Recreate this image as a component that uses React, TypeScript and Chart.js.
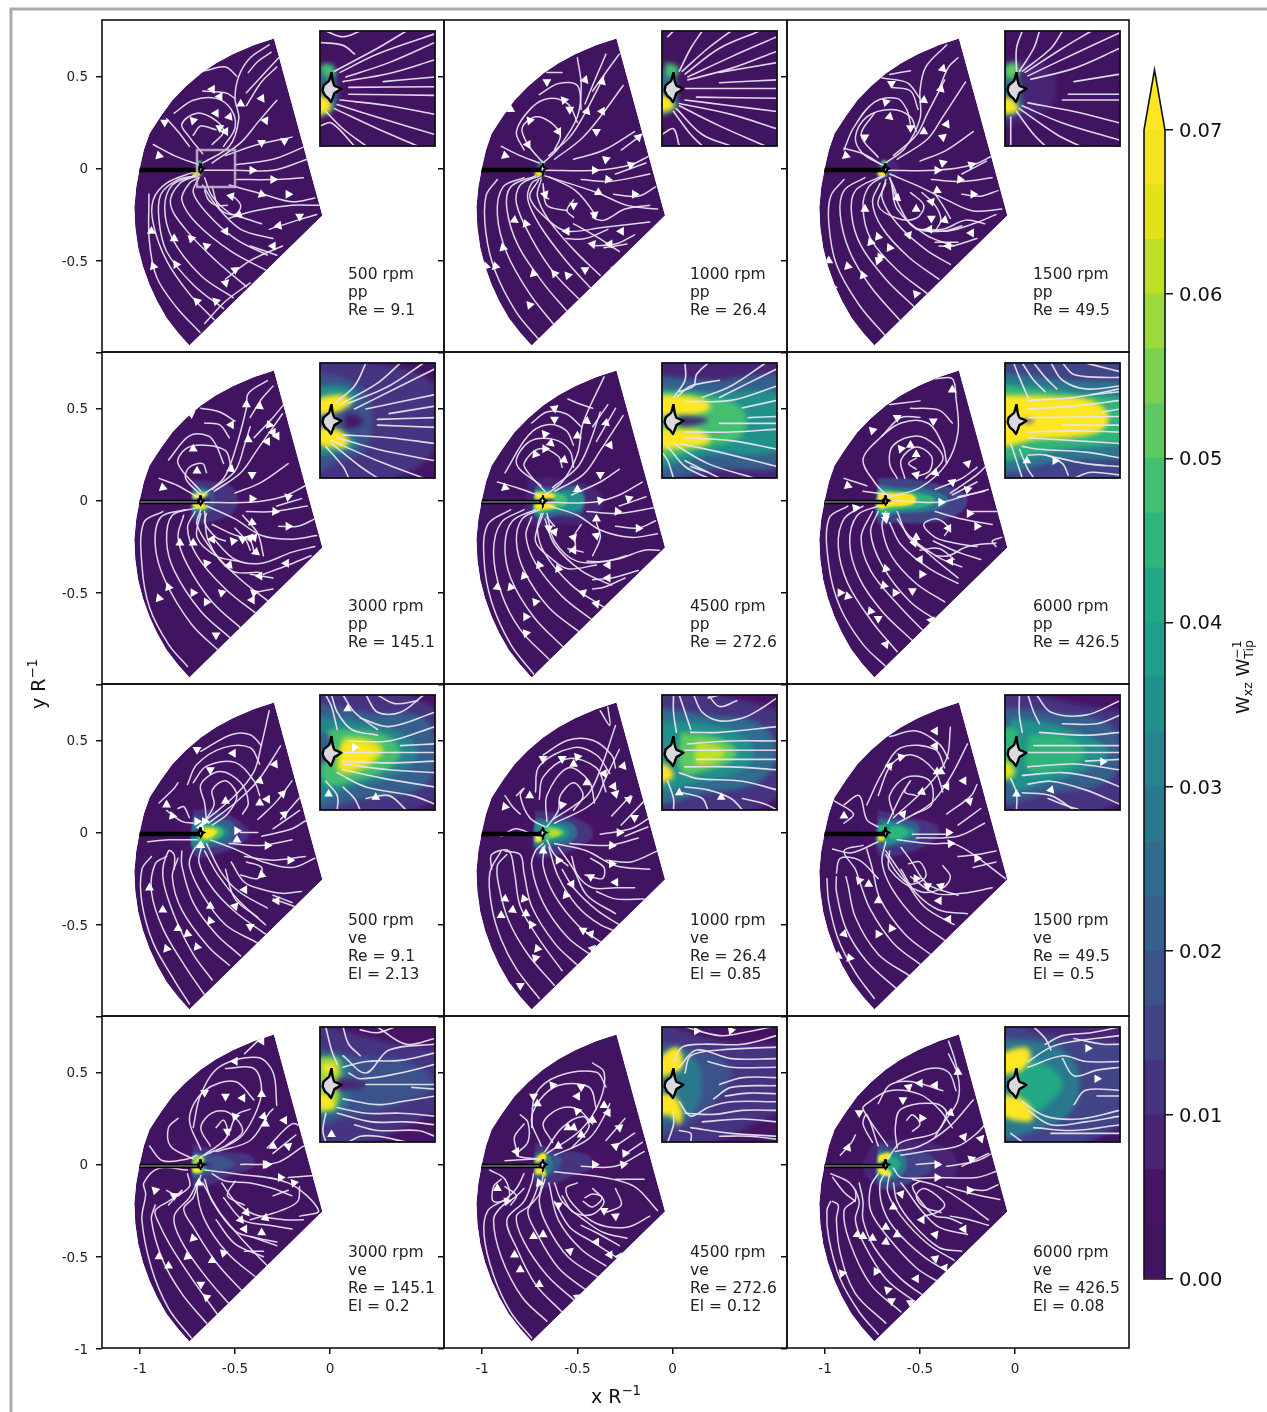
import { useEffect, useRef } from "react";
import Chart from "chart.js/auto";

const xTicks = [-1, -0.5, 0];
const yTicks = [0.5, 0, -0.5, -1];
const cbTicks = [0, 0.01, 0.02, 0.03, 0.04, 0.05, 0.06, 0.07];
const cbColors = ["#411462","#471365","#482475","#463480","#414487","#3b528b","#355f8d","#2f6c8e","#2a788e","#25848e","#21918c","#1f9e89","#22a884","#2fb47c","#44bf70","#5ec962","#7ad151","#9bd93c","#bddf26","#dfe318","#f5e41f"];
const cbMax = 0.07;
const cbExtend = 0.07366;

const sector = [-.295,.705,-.4,.67,-.51,.62,-.6,.57,-.68,.515,-.76,.445,-.83,.37,-.89,.285,-.95,.19,-.98,.1,-1,.01,-1.02,-.1,-1.03,-.21,-1.025,-.32,-1.01,-.43,-.985,-.53,-.95,-.63,-.91,-.72,-.86,-.81,-.8,-.89,-.74,-.96,-.04,-.255,-.295,.705];
const star = [-.68,.0282,-.684,.0138,-.6936,.0052,-.6954,-.0034,-.6913,-.0121,-.685,-.0178,-.681,-.0236,-.6769,-.0138,-.675,-.008,-.6624,-.0006,-.675,.0052,-.678,.0138,-.68,.0282];
const blade = [-1,-.008,-.68,-.008];
const zoomBox = [-.7,.1,-.5,.1,-.5,-.1,-.7,-.1,-.7,.1];

const lines1 = [
[-.684,-.889,-.807,-.754,-.912,-.59,-.951,-.391,-.953,-.138],
[-.6,-.83,-.74,-.68,-.86,-.5,-.93,-.3,-.93,-.17,-.86,-.08,-.72,-.02],
[-.56,-.76,-.72,-.63,-.86,-.45,-.9,-.28,-.89,-.14,-.8,-.06,-.7,-.04],
[-.51,-.7,-.68,-.58,-.83,-.38,-.87,-.21,-.83,-.09,-.72,-.04],
[-.44,-.64,-.6,-.5,-.76,-.33,-.84,-.19,-.79,-.08,-.7,-.04],
[-.34,-.55,-.52,-.45,-.7,-.3,-.78,-.17,-.74,-.08,-.69,-.05],
[-.33,-.47,-.5,-.38,-.65,-.24,-.72,-.13,-.69,-.05],
[-.3,-.38,-.47,-.33,-.6,-.2,-.67,-.09],
[-.36,-.3,-.45,-.27,-.53,-.24,-.62,-.15,-.66,-.05],
[-.07,-.25,-.17,-.28,-.32,-.33],[-.42,-.42,-.28,-.47],[-.25,-.42,-.42,-.5,-.55,-.6],[-.42,-.62,-.55,-.72,-.66,-.84],
[-.53,-.09,-.35,-.14,-.2,-.18,-.08,-.16],
[-.49,-.06,-.3,-.06,-.14,-.05],[-.66,-.01,-.5,-.01,-.3,-.01,-.12,.05],
[-.5,.02,-.3,.05,-.13,.12],[-.55,.07,-.38,.13,-.2,.17],
[-.62,.03,-.47,.14,-.38,.25,-.28,.37],[-.67,.03,-.53,.12,-.48,.27,-.5,.38,-.48,.5,-.42,.6,-.32,.67],
[-.44,.34,-.36,.47,-.28,.55],[-.44,.41,-.36,.5,-.27,.6],
[-.43,.52,-.38,.58,-.31,.63],[-.67,.08,-.74,.17,-.78,.24,-.7,.3,-.6,.26,-.56,.2,-.62,.13],
[-.72,.18,-.68,.23,-.6,.21],[-.86,.27,-.8,.2,-.74,.12],[-.93,.13,-.82,.07,-.69,.02],
[-.82,.3,-.72,.37,-.6,.38,-.52,.32,-.5,.22,-.56,.12],[-.67,.42,-.55,.41,-.5,.38],
[-.66,.53,-.55,.55,-.49,.5],
[-.66,-.12,-.64,-.17,-.6,-.2,-.54,-.2],[-.62,-.1,-.58,-.22,-.5,-.25,-.47,-.2,-.52,-.14],
[-.06,-.2,-.2,-.2,-.4,-.23,-.53,-.27]];
const arrows1 = [[-.47,.35,0],[-.53,.28,20],[-.36,.38,25],[-.34,.26,35],[-.36,.14,60],[-.24,.15,60],[-.41,-.01,90],[-.3,-.06,90],[-.36,-.14,110],[-.22,-.14,90],[-.48,-.25,250],[-.52,-.15,160],[-.55,-.34,270],[-.27,-.31,260],[-.16,-.26,300],[-.3,-.42,270],[-.65,-.42,310],[-.73,-.38,315],[-.82,-.38,0],[-.94,-.34,0],[-.93,-.53,340],[-.81,-.52,330],[-.7,-.72,315],[-.6,-.72,315],[-.5,-.55,295],[-.55,-.62,285],[-.72,.26,315],[-.87,.25,300],[-.9,.07,105],[-.62,.43,270],[-.58,.22,180],[-.55,.2,30],[-.6,.3,270],[-.58,.39,270]];
const insetLines1 = [[-.675,.03,-.6,.07,-.55,.1],[-.665,.028,-.6,.06,-.5,.095],[-.655,.02,-.58,.045,-.5,.08],[-.66,.012,-.58,.026,-.5,.05],[-.59,.012,-.5,.02],[-.65,.002,-.5,.003],[-.65,-.01,-.5,-.012],[-.665,-.02,-.58,-.03,-.5,-.045],[-.67,-.028,-.6,-.05,-.5,-.08],[-.675,-.035,-.6,-.07,-.53,-.1],[-.69,-.04,-.66,-.07,-.62,-.1],[-.7,-.065,-.68,-.06,-.64,-.1],[-.7,.08,-.66,.075,-.64,.06],[-.69,.1,-.66,.09,-.63,.1]];
const field1 = [[.006,[-.72,.05,-.64,.045,-.6,.01,-.64,-.045,-.72,-.06]],[.024,[-.7,.04,-.68,.04,-.672,.015,-.672,-.03,-.69,-.045,-.72,-.05]],[.048,[-.7,.04,-.685,.042,-.675,.035,-.675,.022,-.69,.02]],[.08,[-.72,-.012,-.688,-.015,-.68,-.03,-.687,-.042,-.72,-.045]]];

const lines2 = [
[-.7,-.93,-.82,-.78,-.93,-.56,-.98,-.35,-.98,-.15,-.92,-.06],
[-.62,-.85,-.75,-.68,-.87,-.46,-.92,-.25,-.89,-.1,-.78,-.05],
[-.55,-.78,-.68,-.62,-.81,-.42,-.87,-.22,-.85,-.1,-.72,-.04],
[-.48,-.72,-.62,-.57,-.74,-.38,-.82,-.19,-.8,-.09,-.7,-.04],
[-.42,-.66,-.56,-.5,-.69,-.32,-.76,-.17,-.74,-.08,-.69,-.05],
[-.38,-.58,-.52,-.44,-.65,-.28,-.71,-.15,-.69,-.06],
[-.28,-.45,-.4,-.37,-.52,-.3],[-.34,-.33,-.46,-.38,-.56,-.38],
[-.2,-.36,-.3,-.41,-.42,-.42],[-.12,-.29,-.37,-.32,-.555,-.34,-.65,-.283,-.75,-.156,-.705,-.065],
[-.24,-.41,-.36,-.43],[-.12,-.2,-.25,-.22,-.36,-.28,-.42,-.265,-.41,-.246,-.51,-.12,-.647,-.047],
[-.67,-.04,-.4,-.13,-.24,-.2,-.08,-.22],[-.48,-.06,-.33,-.07,-.12,-.03],
[-.31,-.14,-.18,-.15,-.09,-.1],[-.67,-.01,-.4,-.01,-.22,.02,-.12,.07],[-.3,-.03,-.14,.03],
[-.52,.05,-.36,.1,-.2,.2],[-.27,.1,-.14,.2],[-.62,.05,-.48,.16,-.38,.28,-.26,.45],
[-.65,.07,-.54,.17,-.46,.3,-.36,.5],[-.68,.03,-.6,.11,-.5,.28,-.48,.45,-.5,.6],
[-.62,.1,-.59,.18,-.64,.25,-.72,.28,-.79,.22,-.76,.13,-.68,.03],
[-.5,.25,-.55,.35,-.65,.38,-.74,.33,-.82,.2,-.78,.1],
[-.48,.32,-.5,.45,-.6,.46,-.7,.4],[-.46,.35,-.4,.5,-.35,.62],
[-.42,.42,-.33,.55,-.28,.62],[-.66,.52,-.58,.52],[-.9,.12,-.8,.07,-.7,.03],
[-.68,-.1,-.67,-.15,-.65,-.165],[-.68,-.083,-.66,-.2,-.555,-.228],[-.52,-.17,-.555,-.228,-.52,-.265]];
const arrows2 = [[-.4,.2,60],[-.35,.05,70],[-.41,-.01,90],[-.22,.02,70],[-.34,-.06,95],[-.2,-.14,90],[-.39,-.13,120],[-.54,.32,180],[-.6,.2,150],[-.45,.31,20],[-.46,.48,20],[-.37,.47,15],[-.37,.31,30],[-.18,.17,45],[-.57,.37,320],[-.76,.13,150],[-.75,.26,320],[-.85,.32,0],[-.66,.47,300],[-.88,.07,110],[-.52,-.2,180],[-.67,-.14,160],[-.41,-.25,170],[-.555,-.34,270],[-.27,-.34,270],[-.33,-.41,270],[-.89,-.43,345],[-.83,-.28,5],[-.77,-.3,340],[-.73,-.57,345],[-.62,-.57,320],[-.55,-.58,320],[-.46,-.55,300],[-.3,-.54,280],[-.75,-.74,320],[-.98,-.53,345],[-.93,-.53,345],[-.42,-.41,280]];
const insetLines2 = [[-.67,.03,-.65,.07,-.63,.1],[-.665,.03,-.62,.07,-.58,.1],[-.66,.025,-.6,.07,-.53,.1],[-.655,.02,-.58,.055,-.5,.09],[-.655,.015,-.58,.035,-.5,.065],[-.6,.028,-.5,.045],[-.6,.01,-.5,.015],[-.66,0,-.5,0],[-.64,-.015,-.5,-.017],[-.66,-.02,-.58,-.03,-.5,-.04],[-.67,-.026,-.58,-.045,-.5,-.07],[-.67,-.03,-.6,-.065,-.52,-.1],[-.675,-.035,-.63,-.08,-.58,-.1],[-.68,-.04,-.65,-.08,-.63,-.1],[-.7,-.08,-.68,-.07,-.67,-.1],[-.69,.09,-.68,.1]];
const field2 = [[.006,[-.72,.05,-.64,.04,-.61,.005,-.63,-.04,-.72,-.06]],[.024,[-.7,.035,-.68,.03,-.672,-.025,-.68,-.04,-.72,-.045]],[.048,[-.695,.045,-.675,.04,-.672,.025,-.69,.02]],[.08,[-.72,-.012,-.687,-.015,-.68,-.035,-.72,-.038]]];

const lines3 = [
[-.68,-.91,-.82,-.74,-.94,-.52,-.98,-.3,-.97,-.15,-.9,-.06],
[-.6,-.83,-.76,-.64,-.87,-.45,-.92,-.25,-.9,-.12,-.79,-.05],
[-.52,-.76,-.68,-.6,-.81,-.42,-.86,-.25,-.84,-.12,-.7,-.04],
[-.46,-.68,-.62,-.55,-.76,-.38,-.8,-.21,-.77,-.1,-.69,-.04],
[-.4,-.6,-.56,-.48,-.7,-.32,-.75,-.18,-.71,-.08],
[-.34,-.52,-.47,-.44,-.62,-.3,-.7,-.16,-.68,-.06],
[-.32,-.42,-.47,-.36,-.62,-.22,-.65,-.08],
[-.2,-.38,-.33,-.42,-.4,-.42],[-.28,-.31,-.38,-.34,-.53,-.32,-.61,-.2,-.66,-.05],
[-.1,-.25,-.22,-.3,-.36,-.34,-.48,-.33],[-.3,-.4,-.42,-.4],
[-.66,-.03,-.5,-.1,-.36,-.17,-.22,-.23,-.07,-.22],[-.44,-.06,-.28,-.07,-.12,-.05],
[-.28,-.14,-.18,-.15,-.09,-.12],[-.67,-.01,-.42,-.01,-.22,.02,-.1,.08],[-.28,-.03,-.15,.04],
[-.5,.04,-.36,.1,-.22,.2],[-.62,.05,-.46,.16,-.38,.28,-.26,.47],[-.64,.07,-.52,.18,-.46,.3,-.37,.48],
[-.68,.03,-.58,.11,-.5,.27,-.5,.42,-.47,.55,-.36,.67],[-.4,.43,-.35,.55,-.3,.6],
[-.7,.02,-.8,.08,-.84,.17,-.78,.28,-.65,.32,-.55,.28,-.52,.2],[-.72,.06,-.81,.18,-.74,.3],
[-.55,.24,-.57,.32,-.62,.38,-.74,.36,-.85,.22,-.9,.1],[-.51,.32,-.55,.42,-.65,.44],
[-.7,.49,-.62,.48,-.56,.46,-.5,.38],[-.66,.51,-.55,.53],[-.9,.11,-.8,.08,-.7,.02],
[-.66,-.05,-.63,-.12,-.62,-.17],[-.68,-.08,-.72,-.2,-.62,-.27,-.52,-.27,-.48,-.2,-.55,-.13],
[-.49,-.13,-.42,-.2,-.39,-.28,-.42,-.34],[-.42,-.14,-.38,-.2,-.34,-.27],
[-.16,-.3,-.26,-.28,-.38,-.33,-.52,-.33]];
const arrows3 = [[-.38,.17,50],[-.38,.03,70],[-.41,-.01,90],[-.23,.02,70],[-.29,-.06,95],[-.22,-.14,90],[-.41,-.12,115],[-.48,.2,0],[-.36,.24,25],[-.48,.37,5],[-.39,.43,15],[-.38,.54,15],[-.55,.22,180],[-.79,.17,180],[-.68,.36,315],[-.65,.46,300],[-.66,.28,10],[-.89,.07,110],[-.62,-.16,130],[-.52,-.22,120],[-.44,-.18,160],[-.44,-.27,180],[-.37,-.28,250],[-.45,-.33,270],[-.56,-.36,280],[-.23,-.35,270],[-.35,-.42,270],[-.2,-.5,270],[-.27,-.52,280],[-.79,-.22,0],[-.76,-.4,340],[-.88,-.53,345],[-.71,-.48,330],[-.8,-.58,340],[-.72,-.5,320],[-.52,-.68,320],[-.66,-.43,335],[-.72,-.37,340],[-.98,-.5,0],[-.96,-.64,340]];
const insetLines3 = [[-.68,.03,-.68,.07,-.67,.1],[-.675,.03,-.65,.07,-.64,.1],[-.67,.03,-.62,.07,-.6,.1],[-.665,.028,-.6,.07,-.55,.1],[-.66,.022,-.58,.06,-.5,.097],[-.655,.016,-.58,.035,-.5,.07],[-.58,.012,-.5,.025],[-.59,-.01,-.5,-.01],[-.6,-.02,-.5,-.02],[-.66,-.025,-.58,-.04,-.5,-.06],[-.67,-.03,-.6,-.06,-.5,-.09],[-.675,-.035,-.61,-.08,-.57,-.1],[-.68,-.04,-.65,-.08,-.63,-.1],[-.69,-.05,-.69,-.1]];
const field3 = [[.008,[-.72,.05,-.63,.04,-.61,0,-.63,-.04,-.72,-.06]],[.026,[-.7,.04,-.68,.03,-.67,-.03,-.68,-.045,-.72,-.05]],[.05,[-.7,.04,-.68,.045,-.677,.022,-.7,.02]],[.08,[-.72,-.012,-.685,-.02,-.678,-.04,-.72,-.04]]];

const lines4 = [
[-.75,-.9,-.85,-.78,-.95,-.58,-.99,-.35,-.98,-.12,-.88,-.06],
[-.58,-.82,-.73,-.67,-.87,-.43,-.92,-.24,-.89,-.09,-.76,-.05],
[-.52,-.75,-.68,-.6,-.82,-.38,-.86,-.22,-.83,-.08,-.7,-.04],
[-.46,-.7,-.62,-.55,-.75,-.35,-.8,-.2,-.77,-.08],
[-.38,-.62,-.55,-.48,-.7,-.3,-.75,-.15,-.71,-.06],
[-.32,-.55,-.48,-.42,-.62,-.27,-.7,-.13,-.68,-.05],
[-.37,-.39,-.52,-.38,-.64,-.22,-.66,-.06],
[-.3,-.48,-.4,-.5],[-.3,-.42,-.42,-.4],[-.1,-.3,-.22,-.35,-.35,-.4],
[-.08,-.25,-.2,-.28,-.36,-.34,-.5,-.32,-.62,-.2],
[-.65,-.03,-.5,-.1,-.36,-.19,-.2,-.21,-.07,-.19],[-.44,-.06,-.3,-.06,-.12,-.03],
[-.27,-.14,-.17,-.14,-.08,-.1],[-.66,-.01,-.42,-.01,-.25,.02,-.13,.08],[-.28,-.03,-.15,.01],
[-.5,.04,-.36,.1,-.22,.2],[-.61,.05,-.47,.15,-.38,.28,-.25,.47],[-.62,.06,-.5,.16,-.45,.3,-.42,.4],
[-.67,.03,-.56,.12,-.5,.27,-.44,.5,-.43,.58,-.33,.65],[-.4,.34,-.3,.45,-.22,.55],[-.42,.45,-.36,.55,-.3,.62],
[-.68,.03,-.76,.12,-.74,.18,-.67,.2,-.65,.15],[-.68,.05,-.8,.2,-.76,.28,-.66,.3,-.55,.27,-.52,.18],
[-.56,.2,-.6,.3,-.64,.35,-.74,.35,-.85,.22],[-.53,.34,-.58,.41,-.66,.42],[-.5,.43,-.58,.48,-.68,.5],
[-.9,.12,-.8,.08,-.7,.02],[-.65,-.07,-.66,-.12,-.6,-.2,-.55,-.22],
[-.68,-.07,-.7,-.2,-.6,-.3,-.48,-.33],[-.62,-.13,-.52,-.18,-.42,-.22,-.4,-.28],[-.5,-.15,-.44,-.22,-.42,-.27],
[-.46,-.08,-.38,-.18,-.35,-.3]];
const arrows4 = [[-.41,.14,60],[-.41,.01,90],[-.22,.02,70],[-.29,-.06,95],[-.22,-.14,90],[-.41,-.12,115],[-.43,.33,0],[-.33,.32,30],[-.32,.41,340],[-.3,.37,30],[-.28,.35,30],[-.44,.52,0],[-.37,.51,5],[-.7,.16,0],[-.72,.28,0],[-.52,.17,10],[-.52,.41,270],[-.73,.47,295],[-.88,.07,110],[-.62,-.21,270],[-.51,-.22,200],[-.46,-.21,300],[-.42,-.2,160],[-.4,-.2,160],[-.39,-.28,250],[-.53,-.35,260],[-.23,-.34,270],[-.37,-.41,270],[-.4,-.5,310],[-.41,-.54,270],[-.2,-.5,270],[-.3,-.57,280],[-.72,-.23,0],[-.79,-.23,0],[-.72,-.5,330],[-.65,-.34,320],[-.9,-.53,340],[-.85,-.47,340],[-.65,-.55,330],[-.57,-.5,310],[-.6,-.73,300]];
const insetLines4 = [[-.672,.032,-.64,.06,-.62,.1],[-.665,.028,-.6,.065,-.56,.1],[-.65,.03,-.58,.06,-.52,.1],[-.64,.02,-.58,.05,-.5,.09],[-.62,.02,-.5,.045],[-.58,.012,-.5,.025],[-.6,.002,-.5,.005],[-.6,-.008,-.5,-.012],[-.66,-.025,-.58,-.03,-.5,-.04],[-.67,-.03,-.6,-.05,-.5,-.07],[-.68,-.035,-.6,-.07,-.52,-.1],[-.68,-.04,-.63,-.08,-.6,-.1],[-.69,-.045,-.66,-.08,-.65,-.1]];
const field4 = [[.005,[-.76,.09,-.62,.09,-.42,.04,-.4,-.07,-.6,-.1,-.76,-.09]],[.012,[-.72,.11,-.6,.1,-.5,.06,-.5,-.05,-.6,-.11,-.72,-.11]],[.018,[-.72,.085,-.66,.075,-.62,.05,-.61,.0,-.62,-.05,-.66,-.07,-.72,-.085]],[.035,[-.72,.055,-.66,.06,-.635,.04,-.66,.02,-.72,.01]],[.035,[-.72,-.01,-.66,-.02,-.635,-.04,-.66,-.055,-.72,-.055]],[.08,[-.72,.034,-.67,.045,-.645,.035,-.655,.022,-.675,.014,-.72,.012]],[.08,[-.72,-.012,-.67,-.015,-.65,-.035,-.66,-.048,-.72,-.035]],[.005,[-.655,.012,-.63,.005,-.625,-.005,-.655,-.012]]];

const lines5 = [
[-.73,-.94,-.85,-.78,-.95,-.55,-.99,-.32,-.97,-.13,-.85,-.05],
[-.65,-.86,-.8,-.7,-.9,-.5,-.94,-.28,-.9,-.12,-.78,-.05],
[-.57,-.8,-.73,-.63,-.85,-.42,-.88,-.24,-.84,-.11,-.72,-.05],
[-.48,-.72,-.65,-.58,-.78,-.38,-.82,-.22,-.79,-.1,-.7,-.05],
[-.42,-.65,-.58,-.52,-.72,-.34,-.77,-.19,-.74,-.09],
[-.36,-.58,-.53,-.46,-.67,-.29,-.71,-.16,-.69,-.07],
[-.32,-.46,-.48,-.38,-.62,-.24,-.67,-.1],[-.25,-.42,-.36,-.47,-.42,-.48],
[-.18,-.38,-.32,-.42,-.42,-.43],[-.07,-.27,-.15,-.27,-.3,-.32,-.5,-.33,-.62,-.22,-.66,-.07],
[-.24,-.3,-.36,-.33,-.45,-.33],
[-.65,-.03,-.5,-.08,-.38,-.16,-.22,-.2,-.08,-.18],[-.45,-.06,-.28,-.07,-.1,-.04],
[-.3,-.14,-.18,-.15,-.09,-.11],[-.66,-.01,-.42,-.01,-.28,.03,-.16,.1],[-.28,-.03,-.14,.02],
[-.53,.03,-.38,.1,-.28,.17],[-.62,.05,-.47,.14,-.38,.27,-.26,.46],[-.63,.07,-.5,.18,-.44,.3,-.38,.48],
[-.67,.03,-.58,.1,-.5,.25,-.47,.42,-.36,.67],[-.4,.32,-.3,.5],[-.42,.4,-.34,.52],
[-.67,.05,-.75,.14,-.78,.2,-.7,.28,-.6,.24,-.58,.18],[-.69,.08,-.82,.2,-.75,.32,-.62,.33,-.54,.27,-.52,.18],
[-.52,.3,-.56,.38,-.66,.41,-.76,.35,-.88,.15],[-.48,.4,-.56,.47,-.66,.48,-.74,.42],
[-.55,.55,-.48,.52,-.42,.5],[-.92,.1,-.82,.07,-.68,.02],
[-.62,-.14,-.66,-.09],[-.48,-.13,-.52,-.2,-.51,-.24,-.54,-.28],[-.4,-.12,-.38,-.2,-.42,-.3],[-.47,-.28,-.55,-.26],[-.68,-.07,-.72,-.22,-.63,-.32,-.55,-.37,-.4,-.35]];
const arrows5 = [[-.38,.14,60],[-.38,.0,80],[-.23,.01,70],[-.29,-.06,95],[-.18,-.15,90],[-.4,-.1,120],[-.33,.3,25],[-.35,.42,10],[-.5,.35,0],[-.45,.43,5],[-.64,.31,10],[-.67,.36,320],[-.57,.22,130],[-.72,.25,340],[-.62,.44,300],[-.67,.28,330],[-.5,.06,0],[-.65,-.15,300],[-.52,-.2,160],[-.4,-.19,170],[-.52,-.27,270],[-.34,-.35,270],[-.34,-.42,270],[-.47,-.5,290],[-.4,-.56,280],[-.7,-.35,340],[-.78,-.41,340],[-.85,-.47,340],[-.72,-.55,320],[-.92,-.47,5],[-.77,-.63,330],[-.77,-.72,320],[-.6,-.37,340],[-.88,.07,110],[-.62,-.17,280],[-.62,.5,290]];
const insetLines5 = [[-.68,.04,-.66,.07,-.66,.1],[-.67,.05,-.645,.06,-.64,.08,-.62,.1],[-.675,.04,-.65,.06,-.6,.07],[-.63,.04,-.58,.06,-.52,.1],[-.6,.04,-.55,.065,-.5,.09],[-.66,.033,-.58,.035,-.5,.06],[-.56,.022,-.5,.035],[-.55,.005,-.5,.007],[-.6,-.005,-.5,-.005],[-.66,-.02,-.58,-.02,-.5,-.015],[-.66,-.03,-.58,-.035,-.5,-.05],[-.67,-.04,-.6,-.055,-.5,-.08],[-.68,-.04,-.62,-.075,-.54,-.1],[-.69,-.045,-.66,-.08,-.62,-.1],[-.7,-.055,-.69,-.07,-.68,-.1],[-.66,-.07,-.63,-.085,-.6,-.1],[-.65,-.08,-.62,-.09]];
const field5 = [[.008,[-.76,.12,-.6,.12,-.4,.06,-.37,-.03,-.45,-.12,-.6,-.13,-.76,-.12]],[.02,[-.72,.08,-.62,.07,-.48,.07,-.48,-.07,-.6,-.085,-.72,-.09]],[.035,[-.72,.06,-.62,.05,-.48,.04,-.48,-.045,-.62,-.06,-.72,-.075]],[.048,[-.72,.05,-.62,.042,-.56,.02,-.56,-.025,-.62,-.045,-.72,-.06]],[.08,[-.72,.045,-.64,.04,-.615,.025,-.635,.012,-.68,.01,-.72,.012]],[.08,[-.72,-.013,-.68,-.014,-.635,-.018,-.615,-.035,-.64,-.045,-.72,-.045]],[.008,[-.67,.008,-.63,.005,-.62,0,-.63,-.005,-.67,-.008]]];

const lines6 = [
[-.68,-.9,-.8,-.78,-.92,-.58,-.98,-.35,-.98,-.1,-.88,-.03],
[-.62,-.82,-.75,-.66,-.88,-.45,-.93,-.25,-.9,-.1,-.8,-.03],
[-.54,-.76,-.7,-.6,-.82,-.42,-.87,-.23,-.83,-.08,-.72,-.03],
[-.47,-.72,-.62,-.56,-.76,-.38,-.81,-.2,-.75,-.06],
[-.38,-.67,-.55,-.55,-.7,-.35,-.76,-.17,-.72,-.06],
[-.37,-.55,-.52,-.45,-.65,-.3,-.7,-.14,-.68,-.06],
[-.3,-.45,-.45,-.37,-.6,-.24,-.66,-.12],[-.28,-.36,-.4,-.31,-.55,-.2,-.62,-.1],
[-.18,-.32,-.3,-.28,-.43,-.22],[-.1,-.25,-.12,-.22,-.07,-.2],[-.2,-.25,-.32,-.23,-.42,-.2,-.48,-.13,-.41,-.1,-.35,-.15,-.37,-.19],
[-.65,-.0,-.4,-.01,-.28,.02,-.14,.06],[-.33,.03,-.2,.1],[-.34,.04,-.2,.14,-.14,.2],[-.42,.06,-.28,.12,-.2,.18],
[-.3,.02,-.16,.05],[-.42,-.06,-.28,-.1,-.12,-.13],[-.25,-.06,-.08,-.06],
[-.66,.02,-.5,.07,-.36,.2,-.3,.37,-.31,.55,-.33,.66,-.42,.66],
[-.67,.02,-.74,.1,-.8,.22,-.72,.33,-.6,.42,-.46,.42,-.38,.3,-.36,.2],
[-.62,.12,-.66,.2,-.64,.3,-.52,.35,-.42,.3,-.38,.22,-.47,.12],
[-.58,.12,-.6,.22,-.52,.29,-.44,.24,-.45,.16,-.52,.13],[-.52,.17,-.56,.2,-.52,.23],
[-.8,.05,-.66,.03],[-.9,.12,-.78,.08],
[-.7,.35,-.6,.45,-.5,.45],[-.55,.5,-.4,.49,-.33,.42],[-.66,.52,-.5,.54],
[-.1,-.23,-.25,-.25,-.35,-.3,-.42,-.3],[-.32,-.32,-.4,-.26,-.5,-.27],
[-.62,-.06,-.56,-.2,-.46,-.28],[-.55,-.2,-.42,-.32,-.3,-.42],[-.35,-.6,-.4,-.62]];
const arrows6 = [[-.39,-.01,90],[-.33,.1,50],[-.25,.2,45],[-.25,.06,70],[-.24,-.07,90],[-.2,-.14,90],[-.35,-.15,150],[-.52,.14,45],[-.52,.25,0],[-.55,.3,0],[-.6,.28,320],[-.42,.15,10],[-.43,.43,300],[-.33,.6,0],[-.75,.38,315],[-.62,.45,300],[-.88,.08,110],[-.84,-.04,80],[-.52,-.2,0],[-.68,-.1,170],[-.68,-.08,180],[-.53,-.23,280],[-.5,-.32,270],[-.34,-.33,270],[-.49,-.4,330],[-.68,-.37,345],[-.69,-.46,345],[-.63,-.5,330],[-.54,-.49,300],[-.44,-.65,280],[-.88,-.52,345],[-.92,-.5,330],[-.76,-.6,340],[-.72,-.64,300],[-.68,-.78,280]];
const insetLines6 = [[-.685,.1,-.675,.075,-.66,.04],[-.67,.1,-.65,.07,-.63,.05],[-.65,.1,-.63,.075,-.61,.055],[-.62,.1,-.6,.07,-.56,.055,-.5,.06],[-.6,.1,-.58,.08,-.53,.075,-.5,.075],[-.56,.1,-.52,.09,-.5,.085],[-.66,.035,-.58,.04,-.5,.055],[-.55,.045,-.5,.05],[-.66,.02,-.58,.025,-.5,.035],[-.53,.015,-.5,.02],[-.66,.005,-.58,.006,-.5,.007],[-.6,-.008,-.5,-.008],[-.66,-.02,-.58,-.018,-.5,-.02],[-.66,-.03,-.58,-.035,-.5,-.04],[-.67,-.045,-.64,-.05,-.56,-.055,-.5,-.065],[-.69,-.04,-.68,-.07,-.67,-.1],[-.675,-.05,-.66,-.085,-.65,-.1],[-.66,-.06,-.63,-.06,-.6,-.075,-.59,-.095],[-.63,-.06,-.56,-.075,-.5,-.08],[-.58,-.1,-.55,-.09,-.5,-.095]];
const field6 = [[.006,[-.85,.02,-.72,.12,-.4,.1,-.18,.05,-.12,-.05,-.3,-.1,-.6,-.15,-.83,-.1]],[.015,[-.72,.12,-.62,.12,-.46,.1,-.26,.03,-.28,-.06,-.46,-.12,-.62,-.12,-.72,-.12]],[.03,[-.72,.085,-.6,.07,-.46,.06,-.36,.02,-.36,-.02,-.46,-.06,-.6,-.07,-.72,-.08]],[.045,[-.72,.065,-.6,.05,-.46,.03,-.42,0,-.46,-.03,-.6,-.05,-.72,-.06]],[.08,[-.72,.045,-.62,.042,-.55,.035,-.52,.01,-.53,-.015,-.57,-.028,-.64,-.033,-.72,-.04]],[.01,[-.665,.004,-.648,0,-.665,-.004]]];

const lines7 = [
[-.74,-.93,-.82,-.8,-.93,-.6,-.99,-.38,-.99,-.2,-.94,-.13],
[-.66,-.88,-.76,-.73,-.88,-.52,-.94,-.32,-.92,-.17,-.86,-.13],
[-.62,-.8,-.72,-.66,-.82,-.45,-.88,-.24,-.85,-.1,-.82,-.12,-.82,-.2],
[-.53,-.72,-.64,-.62,-.78,-.42,-.83,-.24,-.8,-.14],
[-.47,-.67,-.6,-.55,-.72,-.38,-.78,-.18,-.78,-.1],
[-.38,-.6,-.55,-.5,-.67,-.34,-.74,-.18,-.72,-.1,-.68,-.05],
[-.34,-.55,-.5,-.43,-.62,-.3,-.69,-.16,-.67,-.06],
[-.34,-.5,-.48,-.37,-.59,-.23,-.66,-.1],[-.38,-.46,-.5,-.36,-.55,-.2],
[-.33,-.41,-.48,-.32,-.57,-.22,-.65,-.06],
[-.2,-.38,-.3,-.34],[-.15,-.32,-.25,-.33,-.35,-.31,-.45,-.27,-.52,-.16],
[-.47,-.23,-.38,-.25,-.36,-.19,-.44,-.16],[-.63,-.04,-.5,-.09,-.35,-.16,-.2,-.19,-.08,-.14],
[-.53,-.06,-.36,-.07,-.2,-.04],[-.45,-.13,-.3,-.15,-.13,-.13],[-.47,-.0,-.38,0],
[-.36,-.02,-.2,.02,-.12,.07],[-.3,.02,-.16,.12],[-.26,.07,-.15,.2],[-.38,.07,-.28,.17,-.2,.28],
[-.64,.05,-.5,.16,-.38,.28,-.26,.47],[-.65,.07,-.5,.2,-.4,.33,-.36,.48,-.32,.66],
[-.66,.06,-.61,.15,-.62,.23,-.55,.28,-.49,.2,-.54,.1,-.62,.04],
[-.65,.06,-.66,.16,-.68,.26,-.58,.33,-.47,.27,-.43,.16,-.46,.1],
[-.72,.27,-.65,.36,-.5,.38,-.4,.28,-.37,.2],[-.75,.26,-.7,.37,-.56,.46,-.42,.46,-.37,.37],
[-.68,.44,-.52,.53,-.42,.53,-.36,.47],[-.72,.05,-.78,.06,-.86,.12],[-.8,.13,-.77,.14,-.74,.08],[-.9,.16,-.82,.24,-.8,.27],
[-.96,-.05,-.85,-.04,-.7,-.04],[-.3,-.36,-.19,-.4]];
const arrows7 = [[-.68,-.07,0],[-.68,.03,20],[-.66,.06,330],[-.49,.01,90],[-.33,-.07,90],[-.21,-.15,90],[-.24,.1,50],[-.25,.21,45],[-.33,.18,30],[-.29,.37,25],[-.37,.16,0],[-.37,.28,10],[-.55,.17,0],[-.7,.06,330],[-.83,.09,340],[-.86,.15,0],[-.49,-.04,0],[-.36,-.23,110],[-.45,-.31,270],[-.28,-.37,270],[-.5,-.4,280],[-.63,-.48,340],[-.75,-.55,350],[-.8,-.52,0],[-.95,-.3,0],[-.88,-.42,0],[-.63,-.4,0],[-.7,-.62,340],[-.86,-.63,340],[-.42,-.51,300],[-.63,.34,300],[-.7,.45,300],[-.51,.43,270]];
const insetLines7 = [[-.69,.1,-.68,.08,-.67,.04],[-.68,.1,-.67,.07,-.645,.04,-.6,.03],[-.66,.1,-.64,.07,-.6,.04],[-.62,.1,-.6,.07,-.56,.07,-.52,.1],[-.6,.1,-.57,.085,-.53,.09],[-.63,.06,-.58,.045,-.5,.07],[-.65,.02,-.58,.02,-.5,.045],[-.56,.012,-.5,.015],[-.66,0,-.5,0],[-.66,-.015,-.58,-.018,-.5,-.015],[-.66,-.02,-.58,-.03,-.5,-.035],[-.66,-.03,-.59,-.045,-.5,-.06],[-.67,-.035,-.62,-.06,-.54,-.075,-.5,-.09],[-.69,-.05,-.67,-.075,-.67,-.1],[-.66,-.06,-.64,-.08,-.63,-.1],[-.62,-.08,-.58,-.075,-.55,-.1]];
const field7 = [[.006,[-.82,.03,-.72,.12,-.52,.11,-.38,.04,-.38,-.05,-.52,-.12,-.72,-.12,-.82,-.06]],[.01,[-.72,.12,-.6,.12,-.44,.03,-.44,-.04,-.6,-.12,-.72,-.12]],[.02,[-.72,.09,-.62,.07,-.52,.06,-.5,0,-.52,-.06,-.62,-.08,-.72,-.09]],[.032,[-.72,.065,-.64,.055,-.56,.035,-.53,0,-.56,-.035,-.64,-.06,-.72,-.08]],[.048,[-.685,.04,-.65,.04,-.585,.03,-.56,0,-.585,-.03,-.64,-.05,-.69,-.055,-.7,-.01]],[.066,[-.66,.026,-.615,.022,-.59,.005,-.615,-.022,-.65,-.036,-.67,-.03]],[.08,[-.66,.016,-.625,.013,-.605,0,-.625,-.018,-.66,-.026]],[.02,[-.72,.03,-.685,.03,-.69,-.015,-.72,-.02]]];

const lines8 = [
[-.7,-.9,-.82,-.74,-.9,-.58,-.95,-.4,-.96,-.22,-.9,-.1],
[-.62,-.83,-.76,-.66,-.86,-.48,-.91,-.3,-.92,-.18,-.87,-.12],
[-.58,-.75,-.7,-.58,-.8,-.4,-.83,-.22,-.86,-.1,-.95,-.12,-.95,-.2],
[-.5,-.72,-.62,-.6,-.74,-.4,-.78,-.22,-.8,-.12,-.88,-.1],
[-.42,-.67,-.55,-.57,-.68,-.38,-.74,-.18,-.72,-.1,-.68,-.06],
[-.37,-.6,-.5,-.5,-.62,-.34,-.68,-.18,-.67,-.07],
[-.26,-.55,-.38,-.5,-.5,-.4,-.6,-.24,-.65,-.08],[-.28,-.5,-.4,-.42,-.52,-.3,-.58,-.2],
[-.3,-.44,-.45,-.34,-.52,-.2,-.6,-.08],[-.15,-.36,-.3,-.36,-.4,-.32],
[-.2,-.3,-.3,-.3,-.42,-.3,-.5,-.23,-.53,-.13],[-.46,-.23,-.37,-.25,-.36,-.19,-.43,-.14],
[-.62,-.06,-.45,-.1,-.3,-.18,-.12,-.2],[-.54,-.06,-.34,-.07,-.18,-.03],[-.35,-.15,-.22,-.16,-.08,-.1],
[-.38,-.01,-.22,.02,-.12,.08],[-.25,-.02,-.13,.03],[-.27,.04,-.15,.17],[-.32,.09,-.22,.2],
[-.62,.05,-.42,.16,-.35,.3,-.28,.45],[-.63,.07,-.45,.2,-.38,.34,-.3,.58],
[-.66,.03,-.6,.12,-.59,.2,-.52,.27,-.47,.2,-.52,.12],[-.66,.06,-.66,.2,-.55,.35,-.44,.28,-.41,.16],
[-.7,.18,-.68,.3,-.55,.4,-.4,.35,-.35,.22],[-.72,.22,-.7,.36,-.52,.46,-.4,.42,-.33,.32],[-.68,.42,-.55,.5,-.42,.5,-.32,.42,-.3,.35],
[-.67,.03,-.75,.08,-.8,.2,-.78,.24,-.82,.2],[-.9,-.02,-.82,.02,-.7,-.03],[-.88,.2,-.84,.14,-.8,.1],
[-.66,-.04,-.62,-.12,-.55,-.18],[-.38,.66,-.33,.58,-.34,.68]];
const arrows8 = [[-.28,.0,90],[-.32,-.07,95],[-.32,-.17,90],[-.23,.18,50],[-.3,.21,45],[-.2,.08,60],[-.26,.36,20],[-.36,.32,30],[-.31,.25,25],[-.45,.27,0],[-.52,.37,0],[-.5,.41,320],[-.68,.4,300],[-.58,.4,300],[-.75,.2,0],[-.88,.14,340],[-.58,.15,320],[-.43,-.24,180],[-.56,-.34,340],[-.53,-.28,270],[-.6,-.15,330],[-.68,-.1,0],[-.47,-.53,300],[-.42,-.63,280],[-.78,-.36,340],[-.88,-.36,5],[-.9,-.45,0],[-.84,-.42,5],[-.77,-.44,0],[-.74,-.5,330],[-.72,-.68,315],[-.71,-.63,340],[-.8,-.83,300],[-.3,-.27,270],[-.43,-.55,280]];
const insetLines8 = [[-.68,.1,-.68,.07,-.675,.035],[-.67,.1,-.66,.07,-.65,.04],[-.645,.1,-.63,.07,-.6,.055,-.56,.06,-.53,.075,-.5,.095],[-.62,.1,-.6,.08,-.57,.09],[-.65,.035,-.6,.035,-.5,.045],[-.655,.015,-.58,.02,-.5,.02],[-.66,.004,-.5,.004],[-.64,-.012,-.5,-.012],[-.66,-.025,-.58,-.025,-.5,-.03],[-.67,-.035,-.64,-.045,-.56,-.05,-.5,-.065],[-.69,-.05,-.68,-.08,-.68,-.1],[-.66,-.06,-.62,-.065,-.58,-.08,-.56,-.1],[-.665,-.07,-.63,-.08,-.62,-.1],[-.56,-.08,-.52,-.09,-.5,-.1],[-.6,.1,-.62,.095]];
const field8 = [[.006,[-.83,.03,-.72,.12,-.52,.12,-.34,.03,-.33,-.03,-.5,-.12,-.72,-.12,-.82,-.05]],[.012,[-.72,.12,-.6,.1,-.45,.05,-.42,-.02,-.5,-.08,-.6,-.12,-.72,-.12]],[.024,[-.72,.08,-.62,.065,-.53,.05,-.5,0,-.53,-.05,-.62,-.07,-.72,-.08]],[.035,[-.72,.055,-.63,.05,-.56,.03,-.54,0,-.56,-.03,-.63,-.05,-.72,-.06]],[.05,[-.67,.035,-.62,.03,-.58,.015,-.57,0,-.58,-.015,-.62,-.03,-.665,-.035]],[.062,[-.64,.02,-.6,.01,-.59,0,-.6,-.012,-.64,-.02]],[.035,[-.72,.04,-.675,.04,-.675,.02,-.72,.02]],[.08,[-.72,-.015,-.687,-.025,-.682,-.045,-.72,-.05]]];

const lines9 = [
[-.74,-.9,-.84,-.76,-.93,-.58,-.98,-.38,-.99,-.25],
[-.62,-.85,-.78,-.7,-.89,-.52,-.94,-.32,-.94,-.24],
[-.55,-.78,-.72,-.66,-.84,-.46,-.88,-.28,-.89,-.24],
[-.48,-.73,-.64,-.6,-.76,-.42,-.82,-.26,-.84,-.2,-.9,-.1,-.8,-.07],
[-.42,-.68,-.58,-.55,-.71,-.36,-.75,-.2,-.78,-.09],
[-.35,-.6,-.52,-.47,-.65,-.3,-.7,-.16,-.68,-.05],
[-.32,-.5,-.48,-.4,-.6,-.22,-.68,-.1],[-.25,-.44,-.4,-.42,-.52,-.33,-.6,-.2],
[-.3,-.34,-.46,-.28,-.55,-.15,-.6,-.08],[-.12,-.3,-.28,-.33,-.42,-.33,-.55,-.24],
[-.05,-.25,-.3,-.07,-.45,-.06,-.62,-.04],[-.22,-.19,-.1,-.16],[-.3,-.13,-.2,-.12,-.1,-.1],
[-.52,-.03,-.3,-.02,-.16,.05],[-.54,-.01,-.35,-.01],[-.3,.04,-.18,.13],[-.36,.1,-.23,.2,-.2,.26],
[-.62,.05,-.44,.16,-.34,.3,-.25,.48],[-.64,.08,-.46,.25,-.36,.4,-.34,.57],
[-.67,.05,-.6,.2,-.55,.28,-.58,.22,-.52,.2],[-.64,.1,-.66,.2,-.57,.3,-.45,.28,-.44,.15,-.53,.1],
[-.72,.2,-.65,.37,-.54,.42,-.42,.33,-.38,.22],[-.78,.15,-.7,.32,-.6,.46,-.42,.45,-.37,.35],
[-.66,.52,-.52,.55,-.4,.48,-.35,.4],[-.9,.15,-.82,.2,-.78,.07,-.72,.03],[-.95,.17,-.85,.1,-.9,.05],
[-.96,-.09,-.86,-.11,-.72,-.05],[-.72,-.25,-.82,-.15,-.92,-.14,-.94,-.22],[-.68,-.12,-.62,-.22,-.55,-.28,-.47,-.24,-.5,-.16,-.56,-.17],
[-.66,-.1,-.66,-.2,-.5,-.32,-.38,-.3,-.34,-.24,-.38,-.18]];
const arrows9 = [[-.35,.0,90],[-.34,-.06,85],[-.2,-.14,90],[-.24,.17,45],[-.27,.28,30],[-.36,.25,30],[-.39,.33,0],[-.41,.33,0],[-.49,.22,10],[-.59,.1,160],[-.42,.47,270],[-.42,.55,270],[-.6,.41,315],[-.66,.36,280],[-.9,.09,0],[-.52,-.25,90],[-.39,-.29,170],[-.46,-.29,180],[-.4,-.37,270],[-.35,-.47,270],[-.26,-.6,270],[-.82,-.26,80],[-.77,-.28,0],[-.72,-.37,0],[-.72,-.55,330],[-.65,-.52,335],[-.87,-.68,340],[-.9,-.55,15],[-.93,-.67,0]];
const insetLines9 = [[-.675,.1,-.675,.065,-.67,.035],[-.66,.1,-.65,.07,-.64,.05],[-.645,.1,-.62,.07,-.56,.065,-.5,.09],[-.6,.05,-.54,.05,-.5,.065],[-.64,.035,-.56,.03,-.5,.035],[-.65,.012,-.5,.012],[-.66,.0,-.5,0],[-.56,-.015,-.5,-.012],[-.66,-.025,-.58,-.02,-.5,-.03],[-.67,-.04,-.6,-.035,-.54,-.045,-.5,-.06],[-.69,-.045,-.68,-.07,-.68,-.1],[-.66,-.055,-.62,-.05,-.56,-.065,-.5,-.09],[-.67,-.07,-.62,-.075,-.58,-.1],[-.625,-.08,-.6,-.09,-.57,-.1]];
const field9 = [[.006,[-.82,.03,-.72,.12,-.5,.12,-.34,.03,-.34,-.05,-.5,-.12,-.72,-.12,-.8,-.04]],[.012,[-.72,.12,-.6,.09,-.43,.05,-.4,0,-.45,-.06,-.6,-.12,-.72,-.12]],[.022,[-.72,.08,-.62,.07,-.52,.05,-.5,0,-.52,-.05,-.62,-.07,-.72,-.08]],[.035,[-.69,.06,-.62,.05,-.56,.03,-.52,0,-.56,-.03,-.62,-.05,-.69,-.06]],[.046,[-.66,.03,-.6,.03,-.56,0,-.6,-.03,-.66,-.03]],[.045,[-.72,.04,-.68,.04,-.685,-.04,-.72,-.04]],[.065,[-.72,-.01,-.69,-.02,-.685,-.04,-.72,-.045]]];

const lines10 = [
[-.73,-.94,-.85,-.78,-.94,-.56,-.99,-.3,-.97,-.16,-.98,-.1,-.9,-.02,-.75,-.03],
[-.65,-.86,-.78,-.7,-.88,-.52,-.94,-.3,-.92,-.22],
[-.58,-.83,-.72,-.63,-.84,-.44,-.9,-.32,-.92,-.25,-.85,-.2,-.74,-.12,-.75,-.05],
[-.52,-.77,-.66,-.6,-.78,-.42,-.82,-.28,-.74,-.18,-.7,-.1],
[-.45,-.7,-.6,-.53,-.72,-.34,-.77,-.24,-.72,-.18,-.69,-.08],
[-.38,-.62,-.54,-.48,-.66,-.3,-.7,-.14,-.68,-.06],
[-.3,-.58,-.45,-.42,-.58,-.26,-.67,-.1],[-.35,-.5,-.5,-.43,-.6,-.3],
[-.28,-.42,-.38,-.4,-.5,-.36,-.62,-.2,-.66,-.08],[-.2,-.35,-.32,-.33,-.46,-.3,-.56,-.18],
[-.35,-.47,-.45,-.47],[-.28,-.44,-.42,-.39],
[-.14,-.3,-.24,-.3,-.4,-.27,-.5,-.2,-.57,-.1],[-.42,-.3,-.26,-.25,-.17,-.2,-.16,-.12],[-.3,-.17,-.22,-.14],
[-.2,-.17,-.3,-.13,-.42,-.1,-.55,-.09,-.62,-.05],[-.45,-.22,-.54,-.17,-.5,-.09],
[-.16,-.28,-.06,-.25,-.22,-.1,-.5,-.05,-.66,-.03],[-.47,0,-.28,.01,-.14,.1],[-.22,-.07,-.08,-.06],
[-.3,.06,-.18,.16],[-.33,.09,-.2,.22,-.14,.2],[-.6,.07,-.42,.13,-.32,.28,-.3,.3],
[-.66,.05,-.48,.14,-.4,.26,-.36,.4,-.4,.52,-.55,.52],[-.68,.04,-.55,.14,-.49,.27,-.42,.3],
[-.63,.1,-.68,.2,-.62,.28,-.53,.28,-.46,.18,-.55,.1],[-.6,.2,-.56,.24,-.53,.16],
[-.68,.08,-.74,.25,-.66,.4,-.5,.45,-.4,.35],[-.72,.2,-.68,.38,-.58,.53,-.38,.58,-.3,.5,-.28,.32],
[-.72,.03,-.84,.1,-.85,.2,-.8,.25],[-.95,.1,-.88,.02,-.75,.03,-.7,.05],[-.45,.6,-.38,.67],
[-.85,-.22,-.78,-.14,-.8,-.17,-.86,-.14]];
const arrows10 = [[-.69,-.1,0],[-.33,.0,90],[-.26,-.07,90],[-.34,.0,90],[-.19,-.1,80],[-.22,.1,50],[-.24,.24,30],[-.34,.22,0],[-.35,.26,15],[-.36,.38,0],[-.55,.37,300],[-.66,.39,300],[-.46,.36,270],[-.5,.56,270],[-.36,.67,270],[-.3,.1,0],[-.54,.18,180],[-.5,.26,320],[-.82,-.17,180],[-.92,-.14,315],[-.34,-.29,250],[-.44,-.26,20],[-.36,-.37,0],[-.45,-.35,270],[-.47,-.3,260],[-.62,-.52,0],[-.72,-.4,345],[-.75,-.5,350],[-.9,-.5,0],[-.85,-.55,0],[-.56,-.48,315],[-.68,-.65,300],[-.65,-.72,310]];
const insetLines10 = [[-.69,.1,-.68,.06,-.67,.035],[-.66,.1,-.65,.07,-.63,.05],[-.66,.05,-.62,.02,-.58,.06,-.5,.07],[-.6,.1,-.55,.07,-.5,.08],[-.66,.03,-.62,.04,-.56,.042,-.5,.055],[-.65,.02,-.63,.01,-.56,.02,-.5,.035],[-.62,.0,-.5,.0],[-.54,-.005,-.5,-.008],[-.66,-.025,-.6,-.035,-.56,-.03,-.5,-.02],[-.67,-.04,-.62,-.05,-.56,-.05,-.5,-.055],[-.69,-.05,-.695,-.08,-.69,-.1],[-.67,-.05,-.61,-.065,-.55,-.065,-.5,-.07],[-.64,-.07,-.6,-.08,-.53,-.08,-.5,-.09],[-.63,.095,-.6,.09,-.57,.1],[-.65,-.1,-.63,-.09,-.6,-.09,-.55,-.1]];
const field10 = [[.006,[-.8,.02,-.72,.12,-.48,.12,-.3,.05,-.28,-.02,-.45,-.07,-.62,-.13,-.8,-.05]],[.012,[-.72,.11,-.56,.07,-.42,.05,-.4,-.01,-.5,-.05,-.66,-.12,-.72,-.12]],[.018,[-.72,.07,-.64,.05,-.55,.04,-.5,.0,-.55,-.03,-.66,-.06,-.72,-.07]],[.03,[-.72,.05,-.665,.05,-.648,.03,-.65,-.03,-.67,-.05,-.72,-.05]],[.06,[-.72,.045,-.67,.045,-.663,.02,-.668,-.03,-.68,-.045,-.72,-.04]],[.08,[-.695,.035,-.677,.035,-.672,.02,-.69,.02]],[.08,[-.72,-.018,-.685,-.02,-.675,-.04,-.69,-.042,-.72,-.04]],[.008,[-.67,.012,-.64,.008,-.62,0,-.64,-.008,-.67,-.01]]];

const lines11 = [
[-.74,-.94,-.85,-.8,-.94,-.6,-.99,-.38,-.97,-.25,-.88,-.19,-.82,-.13,-.78,-.05],
[-.66,-.85,-.79,-.72,-.9,-.5,-.94,-.3,-.9,-.23,-.83,-.18,-.78,-.13],
[-.58,-.8,-.72,-.65,-.82,-.45,-.87,-.3,-.78,-.2,-.74,-.1,-.73,-.05],
[-.5,-.75,-.66,-.6,-.78,-.42,-.82,-.28,-.75,-.22,-.7,-.1],
[-.43,-.7,-.6,-.56,-.72,-.36,-.76,-.25,-.7,-.16,-.68,-.06],
[-.38,-.62,-.55,-.5,-.66,-.33,-.7,-.2,-.67,-.08],
[-.35,-.55,-.48,-.46,-.6,-.3,-.65,-.1],[-.3,-.5,-.42,-.42,-.54,-.34,-.62,-.2],
[-.28,-.44,-.4,-.37,-.48,-.33],[-.24,-.4,-.36,-.37,-.44,-.32,-.58,-.2,-.62,-.1],
[-.12,-.28,-.24,-.34,-.4,-.32,-.52,-.22,-.56,-.13,-.5,-.1],[-.58,-.17,-.52,-.26,-.42,-.27,-.36,-.2,-.42,-.13],
[-.47,-.2,-.42,-.23,-.37,-.18,-.42,-.16,-.46,-.18],[-.35,-.26,-.27,-.22,-.3,-.13],[-.08,-.25,-.2,-.12,-.36,-.07,-.62,-.04],
[-.3,-.08,-.15,-.08],[-.48,-.01,-.3,-.01,-.15,.07],[-.26,.05,-.16,.12],[-.3,.1,-.2,.17],[-.35,.13,-.25,.25],
[-.62,.05,-.44,.14,-.35,.28,-.33,.33],[-.66,.06,-.48,.19,-.38,.35,-.36,.5,-.42,.55],
[-.67,.07,-.58,.2,-.47,.26,-.44,.2,-.53,.09],[-.63,.12,-.68,.22,-.6,.3,-.5,.3,-.42,.22],
[-.69,.1,-.74,.26,-.62,.42,-.44,.42,-.4,.3],[-.74,.2,-.72,.38,-.6,.48,-.4,.5,-.35,.42],
[-.7,.03,-.82,.05,-.76,.12,-.76,.23,-.8,.27],[-.82,.08,-.83,.15,-.78,.22],[-.88,.02,-.72,.03],
[-.96,-.03,-.88,-.08,-.86,-.18,-.94,-.2,-.94,-.12,-.9,-.08],[-.88,-.12,-.82,-.17,-.85,-.22]];
const arrows11 = [[-.41,.0,90],[-.26,.0,80],[-.25,.06,85],[-.3,.1,50],[-.36,.32,0],[-.34,.28,30],[-.28,.2,50],[-.52,.2,250],[-.5,.29,315],[-.5,.37,270],[-.48,.42,300],[-.63,.43,320],[-.73,.37,180],[-.71,.33,0],[-.6,.1,0],[-.48,.16,0],[-.55,.2,0],[-.42,.24,0],[-.82,.07,270],[-.7,-.1,340],[-.6,-.22,300],[-.36,-.25,180],[-.3,-.28,175],[-.4,-.42,270],[-.33,-.49,270],[-.28,-.5,270],[-.54,-.47,290],[-.73,-.39,0],[-.68,-.38,0],[-.83,-.49,0],[-.8,-.57,0],[-.7,-.65,0],[-.5,-.72,295],[-.5,-.82,285],[-.87,-.2,80],[-.92,-.13,0]];
const insetLines11 = [[-.66,.1,-.6,.085,-.56,.09,-.51,.1],[-.68,.04,-.665,.065,-.63,.07,-.56,.07,-.5,.085],[-.66,.02,-.65,.05,-.6,.06,-.5,.065],[-.67,.03,-.64,.06,-.58,.045,-.5,.045],[-.62,.04,-.58,.03,-.5,.03],[-.6,.0,-.56,.012,-.5,.012],[-.61,-.025,-.58,-.005,-.5,-.002],[-.59,-.02,-.55,-.015,-.5,-.016],[-.67,-.03,-.65,-.055,-.62,-.04,-.58,-.03,-.5,-.03],[-.66,-.05,-.61,-.052,-.56,-.045,-.5,-.045],[-.63,-.065,-.56,-.06,-.5,-.065],[-.65,-.075,-.58,-.085,-.5,-.09],[-.68,-.05,-.68,-.07,-.69,-.1],[-.67,-.08,-.65,-.085,-.65,-.1],[-.6,-.09,-.55,-.09,-.5,-.095]];
const field11 = [[.006,[-.8,.03,-.72,.12,-.5,.08,-.34,.05,-.33,-.03,-.48,-.07,-.65,-.15,-.78,-.1]],[.01,[-.72,.12,-.62,.08,-.44,.05,-.43,-.02,-.5,-.05,-.66,-.12,-.72,-.12]],[.018,[-.72,.075,-.65,.065,-.58,.03,-.6,-.02,-.64,-.06,-.72,-.08]],[.028,[-.72,.055,-.67,.06,-.64,.04,-.63,0,-.64,-.04,-.67,-.06,-.72,-.06]],[.07,[-.72,.035,-.675,.065,-.665,.05,-.665,.03,-.68,.02,-.72,.012]],[.08,[-.72,-.015,-.68,-.02,-.665,-.045,-.67,-.07,-.685,-.055,-.72,-.05]],[.08,[-.695,.045,-.68,.06,-.67,.04,-.68,.025]]];

const lines12 = [
[-.72,-.92,-.82,-.8,-.92,-.62,-.98,-.4,-.99,-.25,-.97,-.2],
[-.68,-.86,-.84,-.7,-.92,-.48,-.94,-.3,-.93,-.22,-.96,-.2],
[-.6,-.8,-.76,-.65,-.87,-.42,-.9,-.25,-.84,-.19,-.84,-.14],
[-.52,-.75,-.68,-.62,-.8,-.42,-.84,-.3,-.82,-.2,-.87,-.1,-.97,-.05],
[-.44,-.74,-.6,-.62,-.74,-.45,-.8,-.3,-.8,-.2,-.82,-.1],
[-.38,-.65,-.52,-.56,-.68,-.38,-.76,-.25,-.76,-.12,-.72,-.05],
[-.32,-.6,-.48,-.5,-.64,-.34,-.7,-.22,-.71,-.1,-.68,-.04],
[-.32,-.52,-.46,-.43,-.6,-.28,-.67,-.15,-.66,-.05],[-.28,-.47,-.4,-.45,-.54,-.32,-.62,-.2,-.64,-.1],
[-.25,-.38,-.4,-.34,-.5,-.24,-.57,-.14,-.6,-.1],[-.28,-.32,-.35,-.29,-.42,-.28,-.48,-.22,-.54,-.12,-.5,-.09],
[-.48,-.28,-.41,-.26,-.37,-.22,-.41,-.17,-.48,-.13,-.52,-.17,-.48,-.23,-.39,-.26],
[-.34,-.28,-.24,-.3,-.14,-.33],[-.14,-.3,-.26,-.21,-.4,-.12,-.54,-.08],[-.08,-.19,-.22,-.16,-.36,-.12],
[-.25,-.13,-.16,-.14,-.09,-.11],[-.64,-.02,-.6,-.07,-.42,-.07,-.2,-.07,-.08,-.03],[-.36,-.01,-.2,.02,-.12,.06],
[-.28,-.01,-.14,.06],[-.52,0,-.4,.01],[-.6,.05,-.48,.07,-.3,.1,-.2,.17,-.14,.24],[-.63,.07,-.5,.1,-.35,.2,-.22,.35],
[-.67,.03,-.6,.12,-.42,.17,-.36,.25,-.3,.35,-.3,.48,-.35,.6],[-.62,.09,-.63,.2,-.6,.3,-.42,.33,-.36,.28,-.42,.15],
[-.54,.18,-.5,.22,-.54,.27,-.57,.24],[-.67,.1,-.8,.3,-.78,.33,-.66,.4,-.5,.38,-.4,.3,-.33,.2],
[-.72,.1,-.78,.27,-.8,.22,-.75,.12],[-.72,.33,-.66,.43,-.55,.45,-.38,.4],[-.62,.45,-.45,.52,-.35,.5,-.31,.4],
[-.92,.05,-.86,.12,-.84,.16],[-.35,.67,-.32,.58,-.3,.5],[-.96,-.07,-.9,-.15,-.84,-.2]];
const arrows12 = [[-.41,.0,90],[-.41,-.07,90],[-.23,.03,70],[-.24,-.14,90],[-.18,.14,40],[-.27,.15,40],[-.34,.28,10],[-.49,.25,330],[-.3,.5,0],[-.59,.35,300],[-.82,.28,180],[-.56,.42,290],[-.42,.43,270],[-.5,.44,270],[-.88,.09,20],[-.6,-.16,40],[-.64,-.23,0],[-.49,-.3,270],[-.27,-.35,270],[-.42,-.51,290],[-.37,-.56,275],[-.42,-.38,280],[-.68,-.34,0],[-.68,-.42,5],[-.62,-.38,0],[-.75,-.4,0],[-.83,-.38,5],[-.8,-.39,0],[-.73,-.58,330],[-.91,-.59,320],[-.67,-.68,315],[-.65,-.74,300],[-.55,-.75,300],[-.52,-.62,270]];
const insetLines12 = [[-.65,.1,-.63,.08,-.62,.06],[-.63,.07,-.6,.085,-.55,.09,-.5,.1],[-.66,.04,-.62,.065,-.58,.075,-.5,.085],[-.58,.08,-.53,.07,-.5,.07],[-.66,.03,-.6,.05,-.56,.04,-.5,.04],[-.6,.045,-.58,.015,-.54,.025,-.5,.03],[-.58,-.035,-.56,-.01,-.5,-.01],[-.54,-.02,-.5,-.02],[-.67,-.03,-.63,-.055,-.57,-.06,-.5,-.045],[-.66,-.045,-.62,-.07,-.56,-.065,-.5,-.055],[-.65,-.075,-.58,-.08,-.5,-.07],[-.62,-.085,-.54,-.085,-.5,-.085],[-.69,-.085,-.67,-.1]];
const field12 = [[.008,[-.8,.02,-.72,.12,-.46,.12,-.32,.05,-.32,-.06,-.5,-.08,-.64,-.14,-.78,-.07]],[.014,[-.72,.12,-.64,.09,-.44,.05,-.44,-.03,-.5,-.07,-.62,-.12,-.72,-.12]],[.028,[-.72,.08,-.62,.07,-.58,.04,-.57,0,-.58,-.04,-.62,-.07,-.72,-.085]],[.04,[-.69,.06,-.64,.04,-.61,.02,-.6,0,-.62,-.03,-.65,-.05,-.69,-.06]],[.08,[-.72,.05,-.665,.065,-.655,.05,-.67,.025,-.69,.02,-.72,.01]],[.08,[-.72,-.012,-.69,-.02,-.67,-.025,-.65,-.05,-.66,-.065,-.72,-.045]]];

const insetArrows: number[][][] = [[],[],[],[],[],[[-.662,-.07,0],[-.613,-.07,90]],
[[-.64,.009,90],[-.652,.076,0],[-.603,-.078,120],[-.685,-.072,0]],[[-.67,-.07,0],[-.597,-.078,120]],[[-.68,-.072,0],[-.62,-.065,20],[-.53,-.016,90]],
[[-.68,-.087,0]],[[-.64,.093,90],[-.58,.094,80]],[[-.556,.063,90],[-.54,.01,90]]];

const panelLabels = [
  ["500 rpm","pp","Re = 9.1"],["1000 rpm","pp","Re = 26.4"],["1500 rpm","pp","Re = 49.5"],
  ["3000 rpm","pp","Re = 145.1"],["4500 rpm","pp","Re = 272.6"],["6000 rpm","pp","Re = 426.5"],
  ["500 rpm","ve","Re = 9.1","El = 2.13"],["1000 rpm","ve","Re = 26.4","El = 0.85"],["1500 rpm","ve","Re = 49.5","El = 0.5"],
  ["3000 rpm","ve","Re = 145.1","El = 0.2"],["4500 rpm","ve","Re = 272.6","El = 0.12"],["6000 rpm","ve","Re = 426.5","El = 0.08"],
];
const panelLines = [lines1,lines2,lines3,lines4,lines5,lines6,lines7,lines8,lines9,lines10,lines11,lines12];
const panelArrows = [arrows1,arrows2,arrows3,arrows4,arrows5,arrows6,arrows7,arrows8,arrows9,arrows10,arrows11,arrows12];
const panelInsets = [insetLines1,insetLines2,insetLines3,insetLines4,insetLines5,insetLines6,insetLines7,insetLines8,insetLines9,insetLines10,insetLines11,insetLines12];
const panelFields = [field1,field2,field3,field4,field5,field6,field7,field8,field9,field10,field11,field12];
const greyCore = [false,false,false,true,true,true,false,false,false,true,true,true];

const FONT = "'DejaVu Sans'";
const colLeft = [102, 444, 787];
const colW = [342, 343, 342];
const rowTop = [20, 352, 684, 1016];
const rowH = 332;
const PADL = 60, PADT = 10, PADR = 10, PADB = 50;
const STREAM = "rgba(232,226,240,0.95)";
const BASE = cbColors[0];

const pts = (a: number[]) => { const o: {x:number,y:number}[] = []; for (let i = 0; i < a.length; i += 2) o.push({ x: a[i], y: a[i + 1] }); return o; };
const levelColor = (v: number) => v >= cbMax ? "#fde725" : cbColors[Math.min(20, Math.floor(v / cbMax * 21))];
const lineDs = (a: number[], color: string, width: number, tension = 0.35) => ({ data: pts(a), borderColor: color, borderWidth: width, pointRadius: 0, tension, fill: false, borderCapStyle: "round" });
const fillDs = (a: number[], color: string, tension = 0.4, border = "transparent", bw = 0) => ({ data: pts(a), backgroundColor: color, borderColor: border, borderWidth: bw, pointRadius: 0, tension, fill: "shape" });
const arrowDs = (a: number[][], r: number) => ({ data: a.map(p => ({ x: p[0], y: p[1] })), showLine: false, pointStyle: "triangle", pointRadius: r, pointRotation: a.map(p => p[2]), pointBackgroundColor: "#fff", pointBorderWidth: 0, borderWidth: 0 });
const ordered = (list: any[]) => list.map((d, i) => ({ ...d, order: list.length - i }));
const closeField = (f: any[]) => f.map(([v, p]: any) => fillDs([...p, p[0], p[1]], levelColor(v)));
const noPad = (a: any) => { a.paddingTop = 0; a.paddingBottom = 0; a.paddingLeft = 0; a.paddingRight = 0; };

const frame = (lw: number) => ({
  id: "frame",
  afterDraw(c: any) {
    const { left, top, width, height } = c.chartArea;
    const g = c.ctx; g.save(); g.strokeStyle = "#111"; g.lineWidth = lw; g.strokeRect(left, top, width, height); g.restore();
  },
});

function mainChart(canvas: HTMLCanvasElement, i: number) {
  const row = Math.floor(i / 3), col = i % 3;
  const nField = panelFields[i].length;
  const datasets: any[] = [
    fillDs(sector, BASE, 0),
    ...closeField(panelFields[i]),
    ...panelLines[i].map(l => lineDs(l, STREAM, 1.5)),
    arrowDs(panelArrows[i], 5.2),
    lineDs(blade, "#000", 4.5, 0),
  ];
  if (greyCore[i]) datasets.push(lineDs(blade, "#555", 2, 0));
  datasets.push(fillDs(star, "#e8e8ec", 0, "#000", 2));
  if (i === 0) datasets.push(lineDs(zoomBox, "rgba(196,178,205,0.9)", 2.5, 0));
  const labels = panelLabels[i];
  return new Chart(canvas, {
    type: "line",
    data: { datasets: ordered(datasets) },
    options: {
      responsive: false, animation: false, events: [],
      layout: { autoPadding: false, padding: { left: 0, top: PADT, right: PADR, bottom: 0 } },
      plugins: { legend: { display: false }, tooltip: { enabled: false } },
      scales: {
        x: {
          type: "linear", min: -1.2, max: 0.6,
          afterBuildTicks: (a: any) => { a.ticks = xTicks.map(value => ({ value })); },
          afterFit: (a: any) => { a.height = PADB; noPad(a); },
          ticks: { autoSkip: false, maxRotation: 0, padding: 7, color: "#222", font: { family: FONT, size: 13.5 }, callback: (v: any) => row === 3 ? String(v) : "" },
          grid: { drawOnChartArea: false, drawTicks: row === 3, tickLength: 6, color: "#111", lineWidth: 1.5 },
          border: { display: false },
        },
        y: {
          type: "linear", min: -0.995, max: 0.805,
          afterBuildTicks: (a: any) => { a.ticks = yTicks.map(value => ({ value })); },
          afterFit: (a: any) => { a.width = PADL; noPad(a); },
          ticks: { autoSkip: false, padding: 8, labelOffset: 1.5, color: "#222", font: { family: FONT, size: 13.5 }, callback: (v: any) => (col === 0 && (v !== -1 || row === 3)) ? String(v) : "" },
          grid: { drawOnChartArea: false, drawTicks: true, tickLength: 6, color: "#111", lineWidth: 1.5 },
          border: { display: false },
        },
      },
    },
    plugins: [{
      id: "mask",
      beforeDatasetsDraw(c: any) {
        const g = c.ctx; g.save(); g.beginPath();
        pts(sector).forEach((p, k) => { const x = c.scales.x.getPixelForValue(p.x), y = c.scales.y.getPixelForValue(p.y); k ? g.lineTo(x, y) : g.moveTo(x, y); });
        g.closePath(); g.clip();
      },
      afterDatasetDraw(c: any, args: any) {
        if (args.index === 0) c.ctx.filter = "blur(1.2px)";
        if (args.index === nField) c.ctx.filter = "none";
      },
      afterDatasetsDraw(c: any) { c.ctx.restore(); },
    }, frame(1.6), {
      id: "notes",
      afterDraw(c: any) {
        const g = c.ctx; g.save();
        g.font = `15.5px ${FONT}`; g.fillStyle = "#222"; g.textBaseline = "middle";
        const x = c.chartArea.left + 246; const base = c.chartArea.top + 290.5;
        labels.forEach((t: string, k: number) => g.fillText(t, x, base - (labels.length - 1 - k) * 18));
        g.restore();
      },
    }],
  } as any);
}

function insetChart(canvas: HTMLCanvasElement, i: number) {
  const nField = panelFields[i].length;
  const datasets: any[] = [
    ...closeField(panelFields[i]),
    ...panelInsets[i].map(l => lineDs(l, STREAM, 1.6)),
    arrowDs(insetArrows[i], 5),
    fillDs(star, "#d9d9de", 0.1, "#000", 2.4),
  ];
  return new Chart(canvas, {
    type: "line",
    data: { datasets: ordered(datasets) },
    options: {
      responsive: false, animation: false, events: [],
      layout: { autoPadding: false, padding: 1 },
      plugins: { legend: { display: false }, tooltip: { enabled: false } },
      scales: { x: { type: "linear", min: -0.7, max: -0.5, display: false }, y: { type: "linear", min: -0.1, max: 0.1, display: false } },
    },
    plugins: [{
      id: "base",
      beforeDraw(c: any) { const { left, top, width, height } = c.chartArea; c.ctx.fillStyle = BASE; c.ctx.fillRect(left, top, width, height); },
      beforeDatasetsDraw(c: any) { c.ctx.filter = "blur(2.5px)"; },
      afterDatasetDraw(c: any, args: any) { if (args.index === nField - 1) c.ctx.filter = "none"; },
    }, frame(1.8)],
  } as any);
}

function drawFrags(g: any, x: number, y: number, rot: number, frags: any[]) {
  g.save(); g.translate(x, y); g.rotate(rot); g.textBaseline = "alphabetic"; g.textAlign = "left";
  let total = 0;
  const widths = frags.map(f => { g.font = `${f.size}px ${FONT}`; const w = g.measureText(f.text).width; if (!f.stack) total += w; return w; });
  let pos = -total / 2;
  frags.forEach((f, k) => { g.font = `${f.size}px ${FONT}`; g.fillText(f.text, pos, f.dy || 0); if (!f.stack) pos += widths[k]; });
  g.restore();
}

function pageChart(canvas: HTMLCanvasElement) {
  const bands = cbColors.map((color, k) => ({ data: [[k / 21 * cbMax, (k + 1) / 21 * cbMax]], backgroundColor: color, borderWidth: 0, barPercentage: 1, categoryPercentage: 1, grouped: false }));
  return new Chart(canvas, {
    type: "bar",
    data: { labels: [""], datasets: bands },
    options: {
      responsive: false, animation: false, events: [],
      layout: { autoPadding: false, padding: { left: 1144, top: 130, right: 0, bottom: 133 } },
      plugins: { legend: { display: false }, tooltip: { enabled: false } },
      scales: {
        x: { display: false },
        y: {
          position: "right", min: 0, max: cbMax,
          afterBuildTicks: (a: any) => { a.ticks = cbTicks.map(value => ({ value })); },
          afterFit: (a: any) => { a.width = 102; noPad(a); },
          ticks: { autoSkip: false, padding: 6, labelOffset: 2, color: "#111", font: { family: FONT, size: 19.5 }, callback: (v: any) => Number(v).toFixed(2) },
          grid: { drawOnChartArea: false, drawTicks: true, tickLength: 8, color: "#111", lineWidth: 1.5 },
          border: { display: false },
        },
      },
    },
    plugins: [{
      id: "page",
      beforeDraw(c: any) {
        const g = c.ctx; g.save(); g.strokeStyle = "#ababab"; g.lineWidth = 3;
        g.beginPath(); g.moveTo(11, 1412); g.lineTo(11, 9); g.lineTo(1267, 9); g.stroke(); g.restore();
      },
      afterDraw(c: any) {
        const g = c.ctx; const { left, right, top, bottom } = c.chartArea;
        const tip = c.scales.y.getPixelForValue(cbExtend);
        g.save();
        g.beginPath(); g.moveTo(left, top); g.lineTo((left + right) / 2, tip); g.lineTo(right, top); g.closePath();
        g.fillStyle = "#fde725"; g.fill();
        g.beginPath(); g.moveTo(left, bottom); g.lineTo(left, top); g.lineTo((left + right) / 2, tip); g.lineTo(right, top); g.lineTo(right, bottom); g.closePath();
        g.strokeStyle = "#111"; g.lineWidth = 1.6; g.stroke();
        g.fillStyle = "#111";
        drawFrags(g, 616, 1403, 0, [{ text: "x R", size: 19 }, { text: "−1", size: 13.3, dy: -8 }]);
        drawFrags(g, 45, 684, -Math.PI / 2, [{ text: "y R", size: 19 }, { text: "−1", size: 13.3, dy: -8 }]);
        drawFrags(g, 1249, 677, -Math.PI / 2, [{ text: "W", size: 18 }, { text: "xz", size: 12.6, dy: 3 }, { text: " W", size: 18 }, { text: "−1", size: 12.6, dy: -8, stack: true }, { text: "Tip", size: 12.6, dy: 4 }]);
        g.restore();
      },
    }],
  } as any);
}

export default function App() {
  const host = useRef<HTMLDivElement>(null);
  useEffect(() => {
    const charts: Chart[] = [];
    const add = (l: number, t: number, w: number, h: number, z: number) => {
      const cv = document.createElement("canvas");
      cv.width = w; cv.height = h;
      cv.style.cssText = `position:absolute;left:${l}px;top:${t}px;width:${w}px;height:${h}px;z-index:${z};filter:blur(0.45px)`;
      host.current!.appendChild(cv);
      return cv;
    };
    charts.push(pageChart(add(0, 0, 1267, 1412, 0)));
    for (let i = 0; i < 12; i++) {
      const row = Math.floor(i / 3), col = i % 3;
      charts.push(mainChart(add(colLeft[col] - PADL, rowTop[row] - PADT, colW[col] + PADL + PADR, rowH + PADT + PADB, 1), i));
      charts.push(insetChart(add(colLeft[col] + 217, rowTop[row] + 10, 117, 117, 2), i));
    }
    return () => { charts.forEach(c => c.destroy()); if (host.current) host.current.innerHTML = ""; };
  }, []);
  return <div ref={host} style={{ position: "absolute", left: 0, top: 0, width: 1267, height: 1412, background: "#fff", overflow: "hidden" }} />;
}
